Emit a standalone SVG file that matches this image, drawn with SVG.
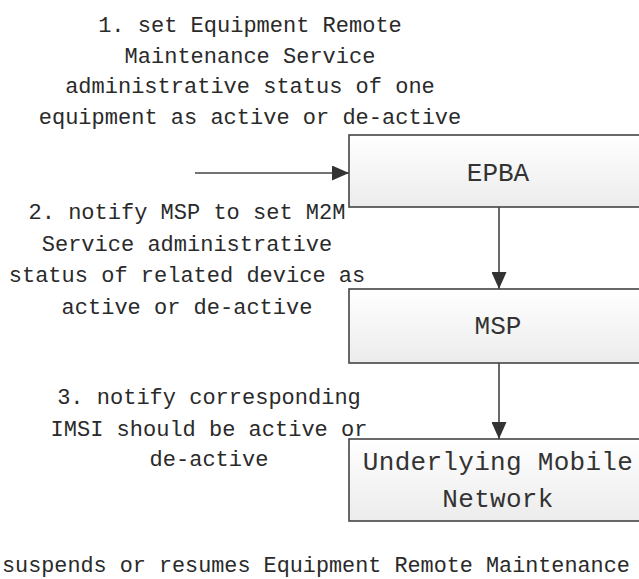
<svg xmlns="http://www.w3.org/2000/svg" width="639" height="579" viewBox="0 0 639 579">
<style>
.t{font-family:"Liberation Mono","DejaVu Sans Mono",monospace;font-size:22px;fill:#2a2a2a;text-anchor:middle}
.b{font-family:"Liberation Mono","DejaVu Sans Mono",monospace;font-size:26px;fill:#333;text-anchor:middle}
.box{fill:url(#g);stroke:#444;stroke-width:1.6}
.c{stroke:#444;stroke-width:1.6;fill:none}
</style>
<defs>
<linearGradient id="g" x1="0" y1="0" x2="0" y2="1">
<stop offset="0" stop-color="#ffffff"/>
<stop offset="1" stop-color="#ececec"/>
</linearGradient>
<marker id="ah" markerWidth="17" markerHeight="15" refX="17" refY="7.5" orient="auto" markerUnits="userSpaceOnUse">
<path d="M0,0 L17,7.5 L0,15 Z" fill="#333"/>
</marker>
</defs>
<g id="connectors">
<line class="c" x1="195" y1="173" x2="349" y2="173" marker-end="url(#ah)"/>
<line class="c" x1="499" y1="207" x2="499" y2="289" marker-end="url(#ah)"/>
<line class="c" x1="499" y1="363" x2="499" y2="439" marker-end="url(#ah)"/>
</g>
<g id="EPBA">
<rect class="box" x="349" y="135" width="302" height="72"/>
<text class="b" x="498" y="181">EPBA</text>
</g>
<g id="MSP">
<rect class="box" x="349" y="289" width="302" height="74"/>
<text class="b" x="498" y="334">MSP</text>
</g>
<g id="UMN">
<rect class="box" x="349" y="439" width="302" height="82"/>
<text class="b" x="498" y="470" letter-spacing="0.3">Underlying Mobile</text>
<text class="b" x="498" y="507" letter-spacing="0.3">Network</text>
</g>
<g id="label1">
<text class="t" x="250" y="32">1. set Equipment Remote</text>
<text class="t" x="250" y="63">Maintenance Service</text>
<text class="t" x="250" y="93">administrative status of one</text>
<text class="t" x="250" y="124">equipment as active or de-active</text>
</g>
<g id="label2">
<text class="t" x="187" y="219">2. notify MSP to set M2M</text>
<text class="t" x="187" y="251">Service administrative</text>
<text class="t" x="187" y="282">status of related device as</text>
<text class="t" x="187" y="314">active or de-active</text>
</g>
<g id="label3">
<text class="t" x="209" y="404">3. notify corresponding</text>
<text class="t" x="209" y="436">IMSI should be active or</text>
<text class="t" x="209" y="466">de-active</text>
</g>
<g id="label4">
<text class="t" x="2" y="572" style="text-anchor:start;font-size:21.8px">suspends or resumes Equipment Remote Maintenance</text>
</g>
</svg>
